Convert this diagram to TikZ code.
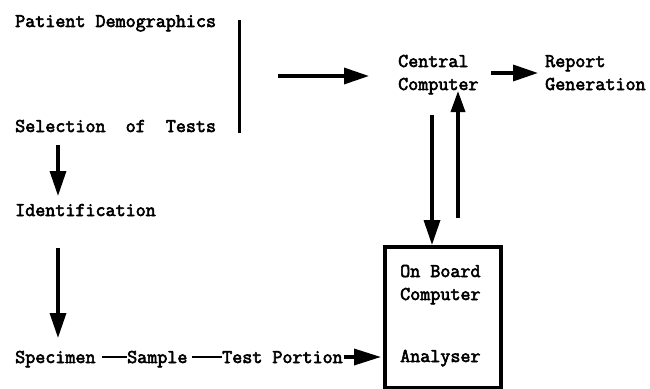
\documentclass[tikz,border=0pt]{standalone}
\usepackage{fontspec}
\setmonofont{Latin Modern Mono}[AutoFakeBold=3]
\usetikzlibrary{arrows.meta, positioning}

\tikzset{
  lbl/.style={font=\ttfamily\bfseries\fontsize{19.5}{23}\selectfont, inner sep=0pt, anchor=base west, align=left},
  arr/.style={line width=3.4pt, -{Triangle[length=25pt, width=16pt]}},
  link/.style={line width=2.8pt},
}

\begin{document}
\begin{tikzpicture}[x=1pt, y=-1pt]
    \useasboundingbox (0,0) rectangle (650,388);

    % left column
    \node[lbl] (demog) at (15,27) {Patient Demographics};
    \node[lbl] (select) at (15,132) {Selection\ \ of\ \ Tests};
    \node[lbl] (ident) at (15,216) {Identification};
    \node[lbl] (specimen) at (15,363) {Specimen};
    \node[lbl] (sample) at (127,363) {Sample};
    \node[lbl] (portion) at (222,363) {Test Portion};

    % right side (base = last line)
    \node[lbl] (central) at (398,90) {Central\\Computer};
    \node[lbl] (report) at (545,90) {Report\\Generation};
    \node[draw, line width=3.8pt, minimum width=116pt, minimum height=141pt, anchor=north west] (obc) at (383,245) {};
    \node[lbl] (onboard) at (400,300) {On Board\\Computer};
    \node[lbl] (analyser) at (400,362) {Analyser};

    % bracket bar and free ends
    \coordinate (bartop) at (239,20);
    \coordinate (barbot) at (239,133);
    \coordinate (feed) at (278,76);
    \coordinate (selfrom) at (58,145);
    \coordinate (selto) at (58,196);
    \coordinate (idfrom) at (58,248);
    \coordinate (idto) at (58,338);
    \coordinate (dnfrom) at (432,115);
    \coordinate (upfrom) at (458,218);
    \coordinate (ptip) at (381,357);

    \draw[line width=3pt] (bartop) -- (barbot); % bar
    \draw[arr] (feed) -- (feed -| 369,0);
    \draw[arr] (491,73) -- (538,73);
    \draw[arr] (dnfrom) -- (dnfrom |- obc.north);
    \draw[arr, -{Triangle[length=21pt, width=14pt]}] (upfrom) -- (458,91);
    \draw[arr] (selfrom) -- (selto);
    \draw[arr] (idfrom) -- (idto);

    \draw[link] ([xshift=6pt]specimen.east |- ptip) -- (sample.west |- ptip);
    \draw[link] ([xshift=4pt]sample.east |- ptip) -- (portion.west |- ptip);
    \draw[arr, -{Triangle[length=27pt, width=16pt]}] ([xshift=1pt]portion.east |- ptip) -- (ptip);
\end{tikzpicture}
\end{document}
